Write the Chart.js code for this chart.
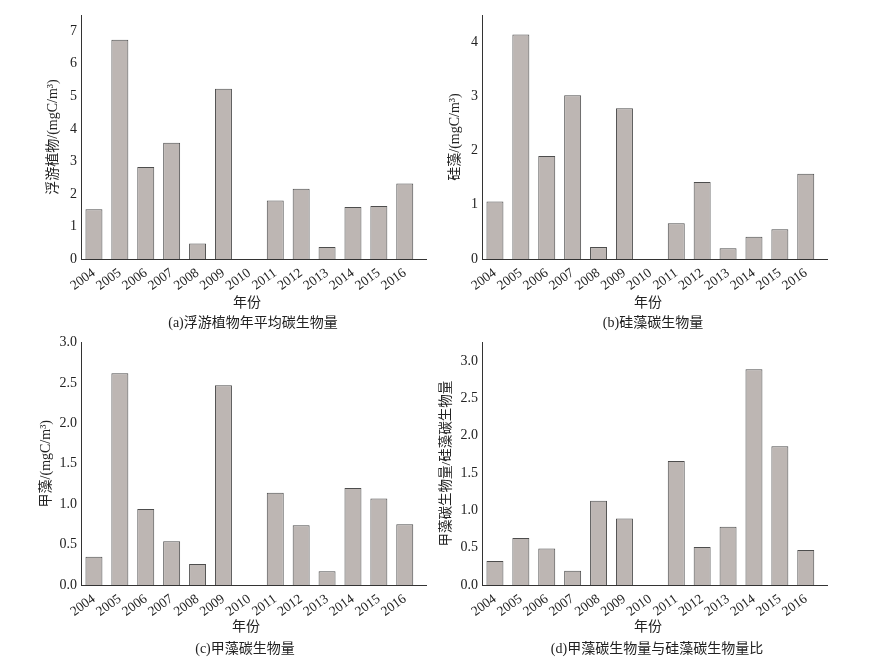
<!DOCTYPE html>
<html>
<head>
<meta charset="utf-8">
<script src="https://cdn.jsdelivr.net/npm/chart.js@4.4.0/dist/chart.umd.min.js"></script>
<style>
body { margin: 0; background: #fff; }
#wrap { position: relative; width: 871px; height: 665px; overflow: hidden; }
canvas { position: absolute; }
.lbl { position: absolute; transform: translate(-50%, -50%); font-family: "Liberation Serif", "Noto Sans CJK SC", serif; font-size: 14px; color: #222; white-space: nowrap; line-height: 1; }
</style>
</head>
<body>
<div id="wrap">
  <canvas id="chartA" width="440" height="311" style="left:0;top:0"></canvas>
  <canvas id="chartB" width="441" height="311" style="left:430px;top:0"></canvas>
  <canvas id="chartC" width="440" height="306" style="left:0;top:330px"></canvas>
  <canvas id="chartD" width="441" height="306" style="left:430px;top:330px"></canvas>

  <div class="lbl" style="left:247px;top:303px">年份</div>
  <div class="lbl" style="left:253px;top:323px">(a)浮游植物年平均碳生物量</div>
  <div class="lbl" style="left:648px;top:303px">年份</div>
  <div class="lbl" style="left:653px;top:323px">(b)硅藻碳生物量</div>
  <div class="lbl" style="left:246px;top:627px">年份</div>
  <div class="lbl" style="left:245px;top:649px">(c)甲藻碳生物量</div>
  <div class="lbl" style="left:648px;top:627px">年份</div>
  <div class="lbl" style="left:657px;top:649px">(d)甲藻碳生物量与硅藻碳生物量比</div>
</div>

<script>
//**** values
var years = [2004, 2005, 2006, 2007, 2008, 2009, 2010, 2011, 2012, 2013, 2014, 2015, 2016];

var phyto  = [1.53, 6.74, 2.83, 3.57, 0.48, 5.23, 0, 1.80, 2.16, 0.37, 1.60, 1.63, 2.32];
var diatom = [1.06, 4.14, 1.90, 3.02, 0.22, 2.78, 0, 0.66, 1.42, 0.20, 0.41, 0.55, 1.57];
var dino   = [0.35, 2.62, 0.94, 0.54, 0.26, 2.47, 0, 1.14, 0.74, 0.17, 1.20, 1.07, 0.75];
var ratio  = [0.32, 0.63, 0.49, 0.19, 1.13, 0.89, 0, 1.66, 0.51, 0.78, 2.89, 1.86, 0.47];

var ticksA = [0, 1, 2, 3, 4, 5, 6, 7];
var ticksB = [0, 1, 2, 3, 4];
var ticksC = [0, 0.5, 1, 1.5, 2, 2.5, 3];
var ticksD = [0, 0.5, 1, 1.5, 2, 2.5, 3];

var serif = '"Liberation Serif", "Noto Sans CJK SC", serif';
var textColor = '#222';
var axisColor = '#333';
var barFill = '#bdb6b3';
var barEdge = '#4d4d4d';

function makeChart(id, values, yTicks, yMax, digits, yTitle, cfg) {
    return new Chart(document.getElementById(id), {
        type: 'bar',
        data: {
            datasets: [{
                data: years.map(function(y, i) { return { x: y, y: values[i] }; }),
                backgroundColor: barFill,
                borderColor: barEdge,
                borderWidth: 1,
                barPercentage: 0.655,
                categoryPercentage: 1
            }]
        },
        options: {
            responsive: false,
            animation: false,
            layout: { padding: { left: cfg.left, right: cfg.right, top: cfg.top, bottom: 0 } },
            plugins: { legend: { display: false }, tooltip: { enabled: false } },
            scales: {
                x: {
                    type: 'linear',
                    offset: false,
                    min: 2003.5,
                    max: 2016.82,
                    grid: { display: false, drawTicks: false },
                    border: { color: axisColor, width: 1 },
                    afterBuildTicks: function(s) { s.ticks = years.map(function(v) { return { value: v }; }); },
                    afterFit: function(s) { s.height = cfg.xh; },
                    ticks: {
                        autoSkip: false, maxRotation: 36, minRotation: 36, padding: 6,
                        color: textColor, font: { family: serif, size: 13.5 },
                        callback: function(v) { return String(v); }
                    }
                },
                y: {
                    min: 0,
                    max: yMax,
                    grid: { display: false, drawTicks: false },
                    border: { color: axisColor, width: 1 },
                    afterBuildTicks: function(s) { s.ticks = yTicks.map(function(v) { return { value: v }; }); },
                    afterFit: function(s) { s.width = cfg.yw; },
                    ticks: {
                        padding: 4, color: textColor, font: { family: serif, size: 14 },
                        callback: function(v) { return v.toFixed(digits); }
                    },
                    title: { display: true, text: yTitle, color: textColor, font: { family: serif, size: cfg.tsize }, padding: 0 }
                }
            }
        }
    });
}

makeChart('chartA', phyto, ticksA, 7.5, 0, '浮游植物/(mgC/m³)',
    { left: 45, right: 14, top: 15, yw: 36, xh: 52, tsize: 14 });
makeChart('chartB', diatom, ticksB, 4.5, 0, '硅藻/(mgC/m³)',
    { left: 17, right: 44, top: 15, yw: 35, xh: 52, tsize: 14 });
makeChart('chartC', dino, ticksC, 3.0, 1, '甲藻/(mgC/m³)',
    { left: 38, right: 14, top: 12, yw: 43, xh: 51, tsize: 14 });
makeChart('chartD', ratio, ticksD, 3.25, 1, '甲藻碳生物量/硅藻碳生物量',
    { left: 8, right: 44, top: 12, yw: 44, xh: 51, tsize: 13.5 });
</script>
</body>
</html>
